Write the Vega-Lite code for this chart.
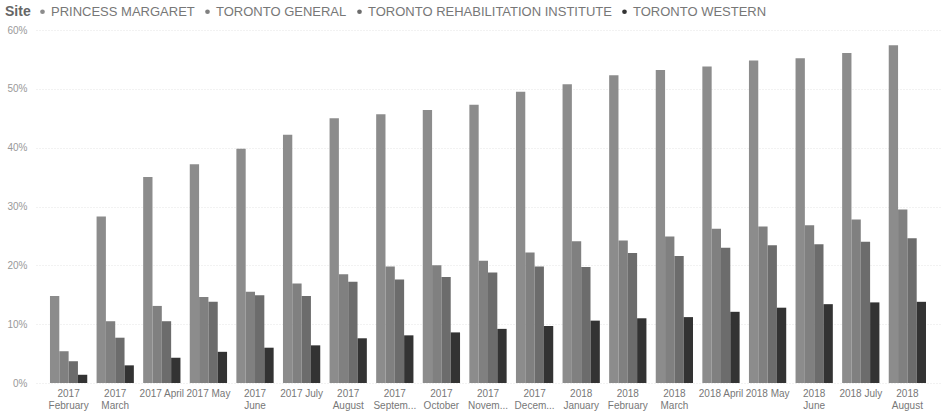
{
  "$schema": "https://vega.github.io/schema/vega-lite/v6.json",
  "width": 904,
  "height": 353,
  "autosize": {"type": "none"},
  "padding": {"left": 36, "top": 30, "right": 5, "bottom": 30},
  "background": "white",
  "config": {
    "font": "Liberation Sans",
    "view": {"stroke": null}
  },
  "datasets": {
    "rows": [
      {"month": "2017 February", "site": "PRINCESS MARGARET", "value": 14.8},
      {"month": "2017 February", "site": "TORONTO GENERAL", "value": 5.4},
      {"month": "2017 February", "site": "TORONTO REHABILITATION INSTITUTE", "value": 3.7},
      {"month": "2017 February", "site": "TORONTO WESTERN", "value": 1.4},
      {"month": "2017 March", "site": "PRINCESS MARGARET", "value": 28.3},
      {"month": "2017 March", "site": "TORONTO GENERAL", "value": 10.5},
      {"month": "2017 March", "site": "TORONTO REHABILITATION INSTITUTE", "value": 7.7},
      {"month": "2017 March", "site": "TORONTO WESTERN", "value": 3.0},
      {"month": "2017 April", "site": "PRINCESS MARGARET", "value": 35.0},
      {"month": "2017 April", "site": "TORONTO GENERAL", "value": 13.1},
      {"month": "2017 April", "site": "TORONTO REHABILITATION INSTITUTE", "value": 10.5},
      {"month": "2017 April", "site": "TORONTO WESTERN", "value": 4.3},
      {"month": "2017 May", "site": "PRINCESS MARGARET", "value": 37.2},
      {"month": "2017 May", "site": "TORONTO GENERAL", "value": 14.6},
      {"month": "2017 May", "site": "TORONTO REHABILITATION INSTITUTE", "value": 13.8},
      {"month": "2017 May", "site": "TORONTO WESTERN", "value": 5.3},
      {"month": "2017 June", "site": "PRINCESS MARGARET", "value": 39.8},
      {"month": "2017 June", "site": "TORONTO GENERAL", "value": 15.5},
      {"month": "2017 June", "site": "TORONTO REHABILITATION INSTITUTE", "value": 14.9},
      {"month": "2017 June", "site": "TORONTO WESTERN", "value": 6.0},
      {"month": "2017 July", "site": "PRINCESS MARGARET", "value": 42.2},
      {"month": "2017 July", "site": "TORONTO GENERAL", "value": 16.9},
      {"month": "2017 July", "site": "TORONTO REHABILITATION INSTITUTE", "value": 14.8},
      {"month": "2017 July", "site": "TORONTO WESTERN", "value": 6.4},
      {"month": "2017 August", "site": "PRINCESS MARGARET", "value": 45.0},
      {"month": "2017 August", "site": "TORONTO GENERAL", "value": 18.5},
      {"month": "2017 August", "site": "TORONTO REHABILITATION INSTITUTE", "value": 17.2},
      {"month": "2017 August", "site": "TORONTO WESTERN", "value": 7.6},
      {"month": "2017 September", "site": "PRINCESS MARGARET", "value": 45.7},
      {"month": "2017 September", "site": "TORONTO GENERAL", "value": 19.8},
      {"month": "2017 September", "site": "TORONTO REHABILITATION INSTITUTE", "value": 17.6},
      {"month": "2017 September", "site": "TORONTO WESTERN", "value": 8.1},
      {"month": "2017 October", "site": "PRINCESS MARGARET", "value": 46.4},
      {"month": "2017 October", "site": "TORONTO GENERAL", "value": 20.0},
      {"month": "2017 October", "site": "TORONTO REHABILITATION INSTITUTE", "value": 18.0},
      {"month": "2017 October", "site": "TORONTO WESTERN", "value": 8.6},
      {"month": "2017 November", "site": "PRINCESS MARGARET", "value": 47.3},
      {"month": "2017 November", "site": "TORONTO GENERAL", "value": 20.8},
      {"month": "2017 November", "site": "TORONTO REHABILITATION INSTITUTE", "value": 18.8},
      {"month": "2017 November", "site": "TORONTO WESTERN", "value": 9.2},
      {"month": "2017 December", "site": "PRINCESS MARGARET", "value": 49.5},
      {"month": "2017 December", "site": "TORONTO GENERAL", "value": 22.2},
      {"month": "2017 December", "site": "TORONTO REHABILITATION INSTITUTE", "value": 19.8},
      {"month": "2017 December", "site": "TORONTO WESTERN", "value": 9.7},
      {"month": "2018 January", "site": "PRINCESS MARGARET", "value": 50.8},
      {"month": "2018 January", "site": "TORONTO GENERAL", "value": 24.1},
      {"month": "2018 January", "site": "TORONTO REHABILITATION INSTITUTE", "value": 19.7},
      {"month": "2018 January", "site": "TORONTO WESTERN", "value": 10.6},
      {"month": "2018 February", "site": "PRINCESS MARGARET", "value": 52.3},
      {"month": "2018 February", "site": "TORONTO GENERAL", "value": 24.2},
      {"month": "2018 February", "site": "TORONTO REHABILITATION INSTITUTE", "value": 22.1},
      {"month": "2018 February", "site": "TORONTO WESTERN", "value": 11.0},
      {"month": "2018 March", "site": "PRINCESS MARGARET", "value": 53.2},
      {"month": "2018 March", "site": "TORONTO GENERAL", "value": 24.9},
      {"month": "2018 March", "site": "TORONTO REHABILITATION INSTITUTE", "value": 21.6},
      {"month": "2018 March", "site": "TORONTO WESTERN", "value": 11.2},
      {"month": "2018 April", "site": "PRINCESS MARGARET", "value": 53.8},
      {"month": "2018 April", "site": "TORONTO GENERAL", "value": 26.2},
      {"month": "2018 April", "site": "TORONTO REHABILITATION INSTITUTE", "value": 23.0},
      {"month": "2018 April", "site": "TORONTO WESTERN", "value": 12.1},
      {"month": "2018 May", "site": "PRINCESS MARGARET", "value": 54.8},
      {"month": "2018 May", "site": "TORONTO GENERAL", "value": 26.6},
      {"month": "2018 May", "site": "TORONTO REHABILITATION INSTITUTE", "value": 23.4},
      {"month": "2018 May", "site": "TORONTO WESTERN", "value": 12.8},
      {"month": "2018 June", "site": "PRINCESS MARGARET", "value": 55.2},
      {"month": "2018 June", "site": "TORONTO GENERAL", "value": 26.8},
      {"month": "2018 June", "site": "TORONTO REHABILITATION INSTITUTE", "value": 23.6},
      {"month": "2018 June", "site": "TORONTO WESTERN", "value": 13.4},
      {"month": "2018 July", "site": "PRINCESS MARGARET", "value": 56.1},
      {"month": "2018 July", "site": "TORONTO GENERAL", "value": 27.8},
      {"month": "2018 July", "site": "TORONTO REHABILITATION INSTITUTE", "value": 24.0},
      {"month": "2018 July", "site": "TORONTO WESTERN", "value": 13.7},
      {"month": "2018 August", "site": "PRINCESS MARGARET", "value": 57.4},
      {"month": "2018 August", "site": "TORONTO GENERAL", "value": 29.5},
      {"month": "2018 August", "site": "TORONTO REHABILITATION INSTITUTE", "value": 24.6},
      {"month": "2018 August", "site": "TORONTO WESTERN", "value": 13.8}
    ]
  },
  "data": {"name": "rows"},
  "mark": {"type": "bar"},
  "encoding": {
    "x": {
      "field": "month",
      "type": "nominal",
      "sort": null,
      "title": null,
      "scale": {"paddingInner": 0.2, "paddingOuter": 0.3},
      "axis": {
        "labelAngle": 0,
        "domain": false,
        "ticks": false,
        "labelPadding": 5,
        "labelFontSize": 10,
        "labelColor": "#777777",
        "labelLineHeight": 12,
        "labelBaseline": "top",
        "labelOverlap": false,
        "labelExpr": "test(/ (April|May|July)$/, datum.label) ? datum.label : [slice(datum.label, 0, 4), test(/September$/, datum.label) ? slice(datum.label, 5, 11) + '...' : test(/(November|December)$/, datum.label) ? slice(datum.label, 5, 10) + '...' : slice(datum.label, 5)]"
      }
    },
    "xOffset": {"field": "site", "type": "nominal"},
    "y": {
      "field": "value",
      "type": "quantitative",
      "title": null,
      "scale": {"domain": [0, 60], "nice": false},
      "axis": {
        "values": [0, 10, 20, 30, 40, 50, 60],
        "labelExpr": "datum.value + '%'",
        "domain": false,
        "ticks": false,
        "labelPadding": 9,
        "labelFontSize": 10,
        "labelColor": "#999999",
        "gridColor": "#e4e4e4",
        "gridDash": [1, 2],
        "gridWidth": 1
      }
    },
    "color": {
      "field": "site",
      "type": "nominal",
      "scale": {
        "domain": ["PRINCESS MARGARET", "TORONTO GENERAL", "TORONTO REHABILITATION INSTITUTE", "TORONTO WESTERN"],
        "range": ["#8c8c8c", "#808080", "#6c6c6c", "#333333"]
      },
      "legend": {
        "title": "Site",
        "orient": "none",
        "legendX": -31,
        "legendY": -25,
        "direction": "horizontal",
        "titleOrient": "left",
        "titleFontSize": 14,
        "titleFontWeight": "bold",
        "titleColor": "#666666",
        "titlePadding": 5,
        "labelFontSize": 13,
        "labelColor": "#777777",
        "labelOffset": 2,
        "symbolType": "circle",
        "symbolSize": 22,
        "symbolStrokeWidth": 0,
        "columnPadding": 6,
        "labelLimit": 400
      }
    }
  }
}
